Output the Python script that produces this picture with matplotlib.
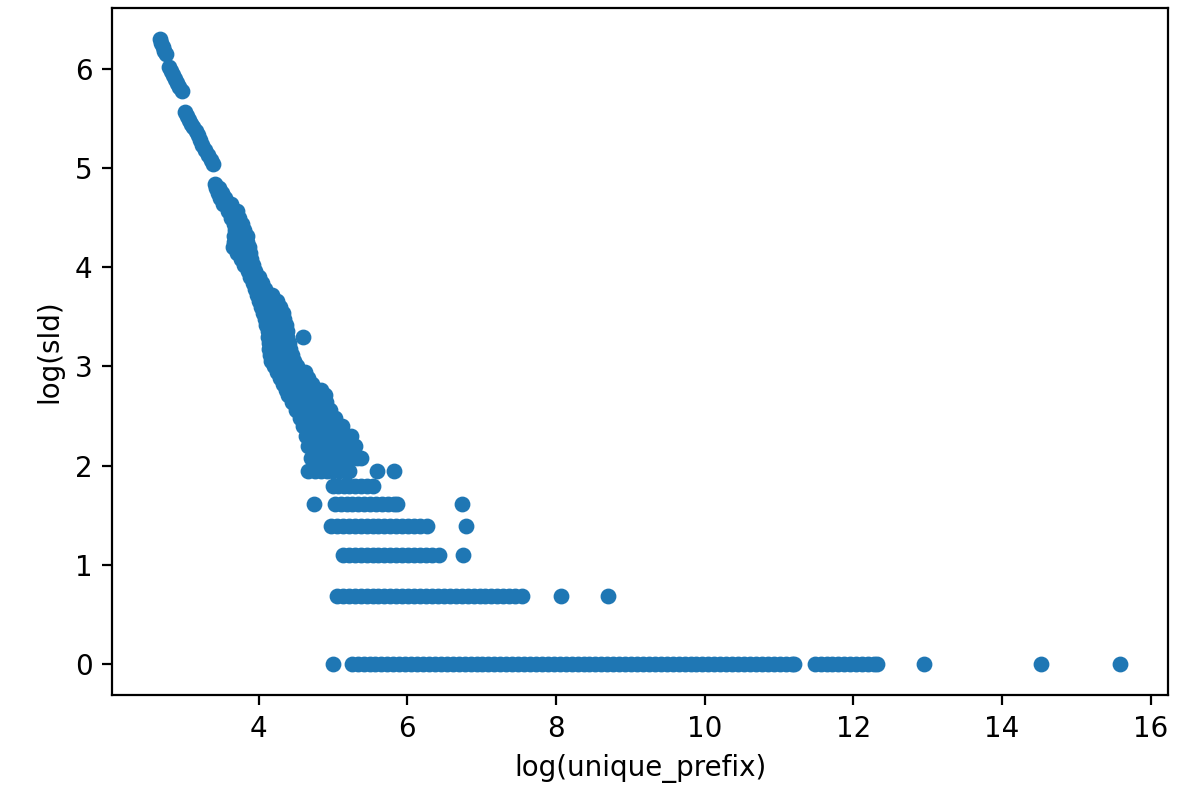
import matplotlib
matplotlib.use("Agg")
import matplotlib.pyplot as plt

# diagonal part: one y level per row, x values
diag_y = [6.30, 6.26, 6.22, 6.18, 6.15,
          6.02, 5.98, 5.94, 5.90, 5.86, 5.82, 5.78,
          5.57, 5.53, 5.49, 5.45, 5.41, 5.37, 5.33, 5.28, 5.23, 5.18, 5.13, 5.08, 5.04,
          4.84, 4.80, 4.75, 4.70, 4.64, 4.57, 4.50, 4.44, 4.38, 4.32, 4.26, 4.20,
          4.14, 4.08, 4.02, 3.96, 3.90, 3.84, 3.78, 3.72, 3.66, 3.60, 3.54, 3.48,
          3.42, 3.36, 3.30, 3.24, 3.18, 3.12, 3.06, 3.00, 2.94, 2.88, 2.82, 2.76,
          2.71, 2.64, 2.56, 2.48, 2.40, 2.30, 2.20, 2.08, 1.95, 1.79]
diag_x = [[2.67], [2.69], [2.71], [2.73], [2.75],
          [2.79], [2.82], [2.84], [2.87], [2.90], [2.93], [2.96],
          [3.00], [3.03], [3.06], [3.09], [3.12], [3.15], [3.18], [3.21], [3.24],
          [3.28], [3.31], [3.35], [3.38],
          [3.41], [3.42, 3.46], [3.45, 3.50], [3.48, 3.54], [3.52, 3.58, 3.62],
          [3.58, 3.64, 3.70], [3.62, 3.68, 3.74], [3.66, 3.72, 3.78],
          [3.68, 3.74, 3.80], [3.66, 3.72, 3.78, 3.84], [3.66, 3.72, 3.78, 3.84],
          [3.65, 3.72, 3.80, 3.87], [3.70, 3.76, 3.82, 3.88], [3.76, 3.82, 3.90],
          [3.80, 3.86, 3.92], [3.85, 3.90, 3.95], [3.88, 3.94, 4.00],
          [3.92, 3.98, 4.04], [3.95, 4.01, 4.08], [3.98, 4.04, 4.10, 4.18],
          [4.00, 4.06, 4.12, 4.18, 4.24], [4.03, 4.09, 4.15, 4.22, 4.28],
          [4.06, 4.12, 4.18, 4.24, 4.32], [4.08, 4.14, 4.20, 4.26, 4.34],
          [4.10, 4.16, 4.22, 4.28, 4.36], [4.12, 4.18, 4.24, 4.30, 4.38],
          [4.13, 4.19, 4.25, 4.31, 4.38, 4.59], [4.14, 4.20, 4.26, 4.32, 4.40],
          [4.14, 4.20, 4.26, 4.34, 4.42], [4.15, 4.22, 4.29, 4.36, 4.44],
          [4.17, 4.24, 4.31, 4.38, 4.48], [4.20, 4.27, 4.34, 4.42, 4.52],
          [4.24, 4.31, 4.38, 4.46, 4.56, 4.62], [4.28, 4.35, 4.42, 4.50, 4.58, 4.66],
          [4.32, 4.39, 4.46, 4.54, 4.62, 4.72], [4.36, 4.43, 4.50, 4.58, 4.66, 4.76, 4.84],
          [4.39, 4.46, 4.54, 4.62, 4.70, 4.80, 4.89],
          [4.44, 4.51, 4.58, 4.66, 4.74, 4.82, 4.90],
          [4.50, 4.57, 4.64, 4.72, 4.80, 4.88, 4.96],
          [4.55, 4.62, 4.70, 4.78, 4.86, 4.94, 5.02],
          [4.60, 4.67, 4.74, 4.82, 4.90, 4.98, 5.06, 5.12],
          [4.63, 4.70, 4.78, 4.86, 4.94, 5.02, 5.10, 5.18, 5.24],
          [4.66, 4.73, 4.80, 4.88, 4.96, 5.04, 5.12, 5.20, 5.30],
          [4.70, 4.77, 4.84, 4.92, 5.00, 5.08, 5.16, 5.24, 5.32, 5.38],
          [4.66, 4.76, 4.84, 4.92, 5.00, 5.08, 5.16, 5.22, 5.59, 5.82],
          [5.00, 5.07, 5.14, 5.22, 5.30, 5.38, 5.46, 5.54]]

# horizontal rows near the bottom
row_y = [1.61, 1.39, 1.10, 0.69, 0.0]
row_x = [[4.74, 5.02, 5.10, 5.18, 5.26, 5.34, 5.42, 5.50, 5.58, 5.66, 5.74, 5.82,
          5.86, 6.74],
         [4.97, 5.05, 5.13, 5.21, 5.29, 5.37, 5.45, 5.53, 5.61, 5.69, 5.77, 5.85,
          5.93, 6.01, 6.09, 6.17, 6.26, 6.79],
         [5.13, 5.21, 5.29, 5.37, 5.45, 5.53, 5.61, 5.69, 5.77, 5.85, 5.93, 6.01,
          6.09, 6.17, 6.25, 6.33, 6.42, 6.75],
         [5.05, 5.13, 5.21, 5.29, 5.37, 5.45, 5.53, 5.61, 5.69, 5.77, 5.85, 5.93,
          6.01, 6.09, 6.17, 6.25, 6.33, 6.41, 6.49, 6.57, 6.65, 6.73, 6.81, 6.89,
          6.97, 7.05, 7.13, 7.21, 7.29, 7.37, 7.45, 7.54, 8.06, 8.70],
         [5.00, 5.25, 5.33, 5.41, 5.49, 5.57, 5.65, 5.73, 5.81, 5.89, 5.97, 6.05,
          6.13, 6.21, 6.29, 6.37, 6.45, 6.53, 6.61, 6.69, 6.77, 6.85, 6.93, 7.01,
          7.09, 7.17, 7.25, 7.33, 7.41, 7.49, 7.57, 7.65, 7.73, 7.81, 7.89, 7.97,
          8.05, 8.13, 8.21, 8.29, 8.37, 8.45, 8.53, 8.61, 8.69, 8.77, 8.85, 8.93,
          9.01, 9.09, 9.17, 9.25, 9.33, 9.41, 9.49, 9.57, 9.65, 9.73, 9.81, 9.89,
          9.97, 10.05, 10.13, 10.21, 10.29, 10.37, 10.45, 10.53, 10.61, 10.69,
          10.77, 10.85, 10.93, 11.01, 11.09, 11.17, 11.20, 11.48, 11.56, 11.64,
          11.72, 11.80, 11.88, 11.96, 12.04, 12.12, 12.20, 12.28, 12.32, 12.95,
          14.52, 15.59]]

x = []
y = []
for yy, xs in zip(diag_y + row_y, diag_x + row_x):
    for xx in xs:
        x.append(xx)
        y.append(yy)

fig = plt.figure(figsize=(5.925, 4.0), dpi=200)
ax = fig.add_axes([0.0945, 0.131, 0.8912, 0.859])
ax.scatter(x, y, s=22)

ax.set_xlabel("log(unique_prefix)")
ax.set_ylabel("log(sld)")

fig.savefig("out.png", dpi=200)
